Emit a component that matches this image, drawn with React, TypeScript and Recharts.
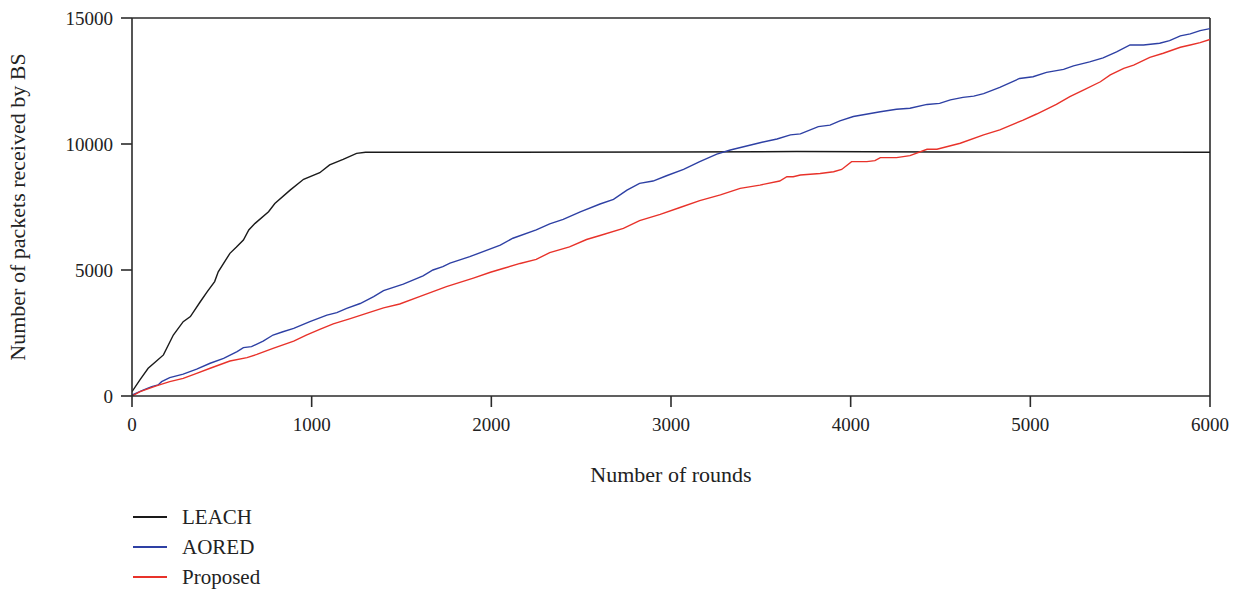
import { LineChart, Line, XAxis, YAxis, ReferenceLine, Legend } from 'recharts'

const roundTicks = [0, 1000, 2000, 3000, 4000, 5000, 6000]
const packetTicks = [0, 5000, 10000, 15000]

const leachRounds = [0, 45, 90, 130, 175, 230, 285, 325, 380, 420, 460, 480, 545, 580, 620, 650, 685, 760, 795, 880, 955, 1045, 1100, 1175, 1250, 1300, 2000, 3000, 3700, 4500, 6000]
const leachPackets = [170, 650, 1100, 1350, 1630, 2420, 2950, 3150, 3740, 4150, 4540, 4930, 5660, 5900, 6190, 6590, 6850, 7310, 7640, 8170, 8600, 8860, 9170, 9390, 9630, 9670, 9670, 9680, 9700, 9680, 9670]

const aoredRounds = [0, 65, 110, 145, 165, 210, 285, 360, 435, 510, 585, 620, 665, 730, 785, 840, 900, 990, 1085, 1140, 1195, 1270, 1345, 1400, 1510, 1620, 1675, 1730, 1770, 1880, 2050, 2120, 2250, 2325, 2400, 2495, 2605, 2680, 2755, 2825, 2900, 2975, 3070, 3160, 3255, 3330, 3495, 3590, 3665, 3720, 3820, 3885, 3940, 4015, 4165, 4255, 4330, 4425, 4495, 4555, 4625, 4685, 4740, 4830, 4940, 5015, 5090, 5185, 5240, 5330, 5405, 5480, 5555, 5630, 5720, 5775, 5835, 5890, 5945, 6000]
const aoredPackets = [40, 240, 370, 440, 570, 730, 870, 1070, 1300, 1490, 1760, 1920, 1960, 2180, 2420, 2550, 2680, 2950, 3210, 3310, 3480, 3670, 3940, 4180, 4440, 4770, 5000, 5130, 5270, 5530, 5990, 6260, 6590, 6830, 7010, 7310, 7620, 7800, 8170, 8440, 8530, 8740, 8990, 9300, 9600, 9760, 10050, 10200, 10360, 10400, 10690, 10750, 10920, 11090, 11280, 11380, 11420, 11570, 11610, 11750, 11850, 11900, 12000, 12250, 12600, 12670, 12840, 12960, 13100, 13260, 13420, 13660, 13930, 13930, 14000, 14100, 14290, 14370, 14500, 14580]

const proposedRounds = [0, 45, 135, 210, 285, 360, 435, 545, 640, 695, 785, 900, 970, 1045, 1120, 1215, 1305, 1400, 1490, 1600, 1750, 1900, 1995, 2065, 2160, 2250, 2325, 2435, 2530, 2605, 2735, 2825, 2940, 3050, 3160, 3275, 3385, 3495, 3605, 3645, 3680, 3720, 3830, 3905, 3950, 4005, 4090, 4135, 4165, 4255, 4330, 4425, 4480, 4610, 4740, 4830, 4960, 5035, 5145, 5220, 5295, 5390, 5445, 5520, 5575, 5665, 5740, 5835, 5890, 5945, 6000]
const proposedPackets = [0, 170, 400, 570, 700, 900, 1100, 1390, 1520, 1650, 1890, 2180, 2420, 2640, 2860, 3070, 3280, 3500, 3650, 3940, 4340, 4680, 4910, 5060, 5260, 5420, 5690, 5920, 6210, 6370, 6650, 6960, 7210, 7480, 7750, 7980, 8240, 8370, 8530, 8700, 8700, 8770, 8830, 8900, 8990, 9300, 9300, 9340, 9460, 9460, 9540, 9790, 9790, 10030, 10360, 10560, 10950, 11190, 11570, 11880, 12140, 12470, 12740, 13000, 13130, 13440, 13600, 13840, 13930, 14020, 14150]

const toPoints = (xs: number[], ys: number[]) => xs.map((x, i) => ({ x, y: ys[i] }))

const series = [
  { name: 'LEACH', color: '#1a1a1a', data: toPoints(leachRounds, leachPackets) },
  { name: 'AORED', color: '#2e40a4', data: toPoints(aoredRounds, aoredPackets) },
  { name: 'Proposed', color: '#e8322a', data: toPoints(proposedRounds, proposedPackets) },
]
const seriesOrder = series.map((s) => s.name)

const FONT = '"Liberation Serif", "Times New Roman", serif'
const AXIS = '#2b2b2b'

function LegendContent({ payload }: any) {
  const items = [...(payload || [])].sort(
    (a: any, b: any) => seriesOrder.indexOf(a.value) - seriesOrder.indexOf(b.value)
  )
  return (
    <div style={{ fontFamily: FONT, fontSize: 21, color: '#222', width: 300 }}>
      {items.map((p: any) => (
        <div key={p.value} style={{ display: 'flex', alignItems: 'center', height: 30, whiteSpace: 'nowrap' }}>
          <span style={{ flexShrink: 0, display: 'inline-block', width: 34, height: 1.6, background: p.color, marginRight: 15 }} />
          <span>{p.value}</span>
        </div>
      ))}
    </div>
  )
}

export default function App() {
  return (
    <div style={{ position: 'absolute', left: 0, top: 0, background: '#fff' }}>
      <LineChart width={1241} height={590} margin={{ top: 18, right: 31, bottom: 0, left: 0 }}>
        <XAxis
          type="number"
          dataKey="x"
          domain={[0, 6000]}
          ticks={roundTicks}
          allowDataOverflow
          height={194}
          tickSize={11}
          tickMargin={11}
          tick={{ fontSize: 19, fill: '#222', fontFamily: FONT }}
          stroke={AXIS}
          strokeWidth={1.6}
          label={{
            content: ({ viewBox }: any) => (
              <text x={viewBox.x + viewBox.width / 2} y={viewBox.y + 86} textAnchor="middle" fontSize={22} fontFamily={FONT} fill="#222">
                Number of rounds
              </text>
            ),
          }}
        />
        <YAxis
          type="number"
          dataKey="y"
          domain={[0, 15000]}
          ticks={packetTicks}
          allowDataOverflow
          width={132}
          tickSize={11}
          tickMargin={8}
          tick={{ fontSize: 19, fill: '#222', fontFamily: FONT }}
          stroke={AXIS}
          strokeWidth={1.6}
          label={{
            content: ({ viewBox }: any) => (
              <text
                x={25}
                y={viewBox.y + viewBox.height / 2}
                transform={`rotate(-90 25 ${viewBox.y + viewBox.height / 2})`}
                textAnchor="middle"
                fontSize={22}
                fontFamily={FONT}
                fill="#222"
              >
                Number of packets received by BS
              </text>
            ),
          }}
        />
        <ReferenceLine y={15000} stroke={AXIS} strokeWidth={1.6} />
        <ReferenceLine x={6000} stroke={AXIS} strokeWidth={1.6} />
        {series.map((s) => (
          <Line
            key={s.name}
            data={s.data}
            dataKey="y"
            name={s.name}
            type="linear"
            stroke={s.color}
            strokeWidth={1.4}
            dot={false}
            activeDot={false}
            isAnimationActive={false}
          />
        ))}
        <Legend
          layout="vertical"
          verticalAlign="bottom"
          align="left"
          content={<LegendContent />}
          wrapperStyle={{ left: 133, top: 502, bottom: 'auto', width: 0, height: 0, overflow: 'visible' }}
        />
      </LineChart>
    </div>
  )
}
